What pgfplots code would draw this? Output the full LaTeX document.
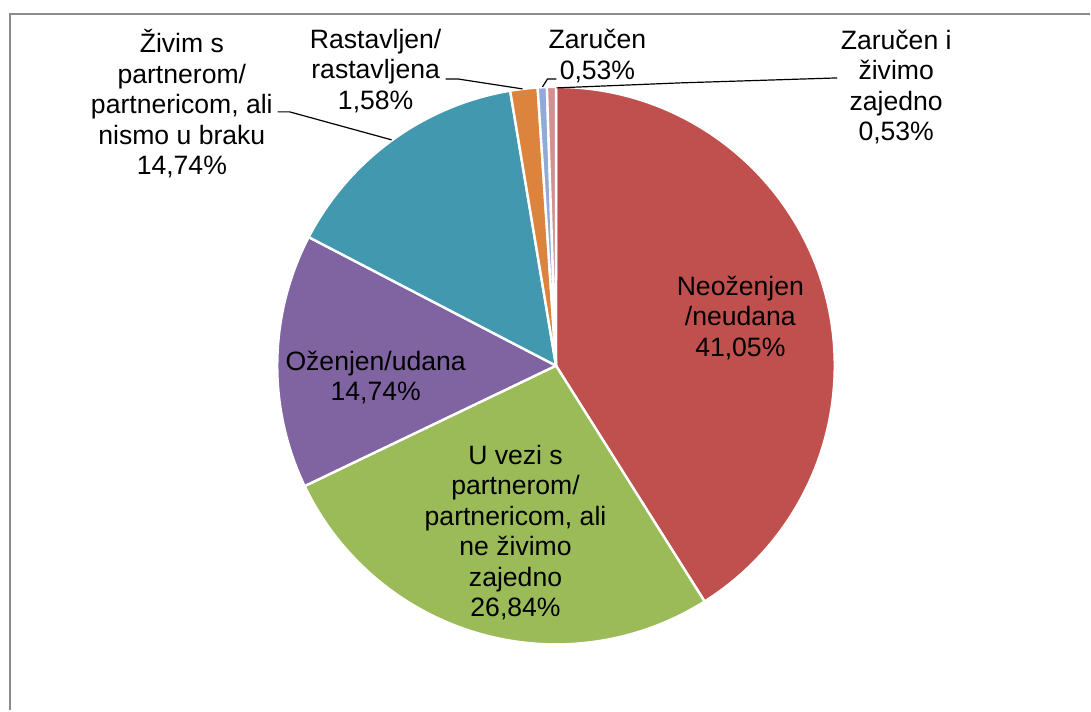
\documentclass[border=0pt]{standalone}
\usepackage{pgfplots}
\usepackage{pgfplotstable}
\pgfplotsset{compat=1.18}
\usepackage{fontspec}
\setmainfont{Liberation Sans}

\definecolor{cRed}{HTML}{C0504D}
\definecolor{cGreen}{HTML}{9BBB59}
\definecolor{cPurple}{HTML}{8064A2}
\definecolor{cTeal}{HTML}{4198AF}
\definecolor{cOrange}{HTML}{DC843D}
\definecolor{cBlue}{HTML}{94AAD6}
\definecolor{cPink}{HTML}{D49091}
\definecolor{frameGray}{HTML}{8C8C8C}

\tikzset{lbl/.style={font=\fontsize{13.3}{15.3}\selectfont, align=center, inner sep=0pt}}

% share of each slice, clockwise from 12 o'clock
\pgfplotstableread{
pct   col
41.05 cRed
26.84 cGreen
14.74 cPurple
14.74 cTeal
1.58  cOrange
0.53  cBlue
0.53  cPink
}\piedata

% centre and radius of the pie (pixel units, y up)
\def\cx{556.5}
\def\cy{345}
\def\rr{279}

\newcommand{\drawslice}[3]{%
  \fill[#3, draw=white, line width=1.2pt, line join=round]
    (axis cs:\cx,\cy) -- (axis cs:{\cx+\rr*cos(#1)},{\cy+\rr*sin(#1)})
    arc[start angle=#1, end angle=#2, radius=\rr] -- cycle;}

% build the list of slices with cumulative angles
\gdef\cum{0}
\gdef\slices{}
\pgfplotstablegetrowsof{\piedata}
\pgfmathtruncatemacro\lastrow{\pgfplotsretval-1}
\foreach \i in {0,...,\lastrow}{%
  \pgfplotstablegetelem{\i}{pct}\of\piedata \let\p\pgfplotsretval
  \pgfplotstablegetelem{\i}{col}\of\piedata \let\c\pgfplotsretval
  \pgfmathsetmacro\a{90-3.6*\cum}
  \pgfmathsetmacro\b{90-3.6*(\cum+\p)}
  \xdef\slices{\unexpanded\expandafter{\slices}\noexpand\drawslice{\a}{\b}{\c}}
  \pgfmathsetmacro\n{\cum+\p}\xdef\cum{\n}
}

\begin{document}
\begin{tikzpicture}
\begin{axis}[
  x=0.5pt, y=0.5pt,
  xmin=0, xmax=1091, ymin=0, ymax=711,
  hide axis, clip=false,
]
  % whole picture area
  \path (axis cs:0,0) rectangle (axis cs:1091,711);
  % chart frame (only top and left edges are visible)
  \draw[frameGray, line width=1pt] (axis cs:10,0) -- (axis cs:10,697) -- (axis cs:1091,697);

  \slices

  % leader lines
  \draw[black, line width=0.6pt] (axis cs:278,599) -- (axis cs:290,599) -- (axis cs:392,571);
  \draw[black, line width=0.6pt] (axis cs:446,632) -- (axis cs:458,632) -- (axis cs:523,622);
  \draw[black, line width=0.6pt] (axis cs:557,632) -- (axis cs:548,632) -- (axis cs:543,624);
  \draw[black, line width=0.6pt] (axis cs:557,623) -- (axis cs:680,628) -- (axis cs:838,633);

  % data labels
  \node[lbl] at (axis cs:741,393) {Neoženjen\\/neudana\\41,05\%};
  \node[lbl] at (axis cs:516,178) {U vezi s\\partnerom/\\partnericom, ali\\ne živimo\\zajedno\\26,84\%};
  \node[lbl] at (axis cs:376,333) {Oženjen/udana\\14,74\%};
  \node[lbl] at (axis cs:182,607) {Živim s\\partnerom/\\partnericom, ali\\nismo u braku\\14,74\%};
  \node[lbl] at (axis cs:376,640) {Rastavljen/\\rastavljena\\1,58\%};
  \node[lbl] at (axis cs:598,655) {Zaručen\\0,53\%};
  \node[lbl] at (axis cs:897,624) {Zaručen i\\živimo\\zajedno\\0,53\%};
\end{axis}
\end{tikzpicture}
\end{document}
